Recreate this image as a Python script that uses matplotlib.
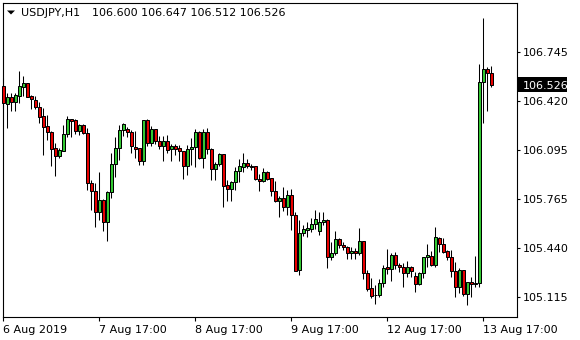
import matplotlib
matplotlib.use("Agg")
import matplotlib.pyplot as plt
from matplotlib.patches import Rectangle, Polygon
import numpy as np

# ---------------- data (USDJPY, H1) ----------------
opens = [106.517, 106.395, 106.443, 106.409, 106.453, 106.513, 106.535, 106.451, 106.424, 106.376,
         106.318, 106.252, 106.214, 106.104, 106.052, 106.088, 106.196, 106.296, 106.290, 106.218,
         106.257, 106.207, 105.871, 105.818, 105.683, 105.761, 105.617, 105.814, 106.000, 106.104,
         106.225, 106.230, 106.210, 106.110, 106.104, 106.016, 106.290, 106.137, 106.232, 106.150,
         106.122, 106.152, 106.096, 106.119, 106.104, 106.086, 105.983, 106.096, 106.110, 106.210,
         106.041, 106.210, 106.097, 105.965, 105.998, 106.064, 105.858, 105.835, 105.878, 105.951,
         105.982, 106.004, 105.983, 105.984, 105.900, 105.889, 105.944, 105.905, 105.822, 105.756,
         105.774, 105.716, 105.792, 105.661, 105.294, 105.540, 105.561, 105.570, 105.601, 105.557,
         105.612, 105.628, 105.384, 105.406, 105.500, 105.462, 105.451, 105.406, 105.424, 105.406,
         105.486, 105.274, 105.175, 105.128, 105.130, 105.208, 105.316, 105.301, 105.393, 105.327,
         105.314, 105.274, 105.314, 105.254, 105.205, 105.274, 105.380, 105.387, 105.331, 105.506,
         105.466, 105.422, 105.380, 105.287, 105.185, 105.294, 105.135, 105.214, 105.203, 105.207,
         106.542, 106.628, 106.600]
highs = [106.568, 106.469, 106.469, 106.473, 106.616, 106.585, 106.537, 106.460, 106.451, 106.411,
         106.369, 106.325, 106.218, 106.137, 106.104, 106.259, 106.318, 106.298, 106.298, 106.263,
         106.263, 106.237, 105.893, 105.875, 105.949, 105.765, 105.820, 106.074, 106.181, 106.261,
         106.270, 106.248, 106.225, 106.218, 106.106, 106.293, 106.298, 106.250, 106.234, 106.182,
         106.182, 106.189, 106.132, 106.130, 106.128, 106.088, 106.124, 106.172, 106.232, 106.218,
         106.232, 106.237, 106.104, 106.015, 106.070, 106.066, 105.891, 105.887, 105.982, 106.031,
         106.070, 106.033, 106.000, 105.986, 105.931, 105.971, 105.953, 105.909, 105.887, 105.789,
         105.849, 105.827, 105.832, 105.683, 105.628, 105.594, 105.613, 105.639, 105.694, 105.683,
         105.683, 105.634, 105.484, 105.557, 105.506, 105.484, 105.455, 105.451, 105.440, 105.573,
         105.488, 105.296, 105.241, 105.197, 105.234, 105.329, 105.433, 105.407, 105.413, 105.344,
         105.340, 105.353, 105.323, 105.285, 105.285, 105.382, 105.468, 105.424, 105.581, 105.513,
         105.506, 105.429, 105.429, 105.351, 105.307, 105.296, 105.218, 105.247, 105.388, 106.663,
         106.967, 106.641, 106.647]
lows = [106.369, 106.237, 106.353, 106.351, 106.406, 106.453, 106.443, 106.364, 106.362, 106.270,
        106.059, 106.159, 105.986, 105.922, 106.037, 106.085, 106.177, 106.177, 106.198, 106.192,
        106.198, 105.827, 105.694, 105.584, 105.628, 105.557, 105.490, 105.776, 105.916, 106.026,
        106.185, 106.181, 106.070, 106.036, 105.993, 105.990, 106.116, 106.117, 106.135, 106.102,
        106.016, 106.072, 106.016, 106.062, 106.021, 105.903, 105.929, 105.995, 105.981, 106.031,
        105.975, 106.064, 105.891, 105.891, 105.988, 105.716, 105.754, 105.754, 105.827, 105.882,
        105.949, 105.971, 105.960, 105.893, 105.822, 105.878, 105.893, 105.789, 105.750, 105.650,
        105.688, 105.661, 105.561, 105.289, 105.263, 105.521, 105.517, 105.550, 105.566, 105.528,
        105.595, 105.307, 105.362, 105.395, 105.440, 105.429, 105.371, 105.371, 105.371, 105.395,
        105.234, 105.159, 105.108, 105.070, 105.119, 105.185, 105.267, 105.225, 105.301, 105.285,
        105.181, 105.252, 105.252, 105.152, 105.196, 105.241, 105.314, 105.323, 105.318, 105.418,
        105.411, 105.362, 105.252, 105.119, 105.141, 105.124, 105.064, 105.115, 105.185, 105.185,
        106.270, 106.353, 106.512]
closes = [106.402, 106.443, 106.409, 106.458, 106.517, 106.535, 106.447, 106.429, 106.376, 106.314,
          106.247, 106.214, 106.097, 106.054, 106.092, 106.198, 106.296, 106.287, 106.220, 106.259,
          106.207, 105.871, 105.818, 105.683, 105.761, 105.617, 105.814, 106.000, 106.104, 106.225,
          106.263, 106.210, 106.116, 106.101, 106.016, 106.290, 106.137, 106.232, 106.150, 106.121,
          106.150, 106.089, 106.119, 106.096, 106.084, 105.983, 106.099, 106.110, 106.210, 106.041,
          106.210, 106.097, 105.965, 105.998, 106.064, 105.855, 105.835, 105.878, 105.951, 105.984,
          106.006, 105.984, 105.980, 105.900, 105.889, 105.944, 105.898, 105.822, 105.756, 105.774,
          105.716, 105.792, 105.661, 105.291, 105.540, 105.566, 105.573, 105.601, 105.635, 105.612,
          105.628, 105.380, 105.406, 105.500, 105.460, 105.451, 105.406, 105.424, 105.406, 105.486,
          105.274, 105.168, 105.126, 105.132, 105.208, 105.311, 105.301, 105.393, 105.327, 105.314,
          105.274, 105.314, 105.291, 105.205, 105.274, 105.380, 105.393, 105.331, 105.513, 105.466,
          105.418, 105.380, 105.287, 105.185, 105.294, 105.135, 105.214, 105.203, 105.207, 106.542,
          106.628, 106.600, 106.526]

xtick_bars = [0, 24, 48, 72, 96, 120]
xtick_labels = ["6 Aug 2019", "7 Aug 17:00", "8 Aug 17:00", "9 Aug 17:00",
                "12 Aug 17:00", "13 Aug 17:00"]
ytick_values = [105.115, 105.440, 105.765, 106.095, 106.420, 106.745]
symbol = "USDJPY,H1"
last_ohlc = [106.600, 106.647, 106.512, 106.526]

# ---------------- figure ----------------
W, H = 580, 340
fig = plt.figure(figsize=(W / 100, H / 100), dpi=100)
fig.patch.set_facecolor("white")
L, R, T, B = 2.7, 516.7, 2.5, 317.0
ax = fig.add_axes([L / W, 1 - B / H, (R - L) / W, (B - T) / H])
ax.set_facecolor("white")

o = np.array(opens); h = np.array(highs); l = np.array(lows); c = np.array(closes)
x = np.arange(len(o))
up = c >= o
bull, bear = "#32c832", "#e80000"
colors = np.where(up, bull, bear)

ax.vlines(x, l, h, color="black", linewidth=0.75, zorder=2, clip_on=False)
bottoms = np.minimum(o, c)
heights = np.abs(c - o)
ax.bar(x, heights, bottom=bottoms, width=0.72, color=colors, edgecolor="black",
       linewidth=0.72, zorder=3, clip_on=False)

ax.set_xlim(-0.15, 128.35)
ax.set_ylim(104.984, 107.071)

for s in ax.spines.values():
    s.set_color("black")
    s.set_linewidth(0.8)

ax.yaxis.tick_right()
ax.set_yticks(ytick_values)
ax.set_yticklabels([f"{v:.3f}" for v in ytick_values])
ax.tick_params(axis="y", direction="out", length=2.3, width=0.8, pad=2.4,
               labelsize=8, colors="black")
ax.set_xticks(xtick_bars)
ax.set_xticklabels(xtick_labels, ha="left")
ax.tick_params(axis="x", direction="out", length=2.9, width=0.8, pad=3.0,
               labelsize=8, colors="black")

# title
fig.patches.append(Polygon([[7 / W, 1 - 10.5 / H], [15 / W, 1 - 10.5 / H], [11 / W, 1 - 14.5 / H]],
                           closed=True, transform=fig.transFigure, facecolor="black",
                           edgecolor="none"))
fig.text(21 / W, 1 - 16.3 / H, symbol, fontsize=8, va="baseline", ha="left", color="black")
fig.text(91.7 / W, 1 - 16.3 / H, " ".join(f"{v:.3f}" for v in last_ohlc), fontsize=8,
         va="baseline", ha="left", color="black")

# current price label
cur = last_ohlc[3]
ypix = ax.transData.transform((0, cur))[1]
fig.patches.append(Rectangle(((R + 1) / W, (ypix - 7.5) / H), 49 / W, 15 / H,
                             transform=fig.transFigure, facecolor="black", edgecolor="none"))
fig.text(523 / W, ypix / H, f"{cur:.3f}", fontsize=8, color="white", va="center_baseline",
         ha="left")

fig.savefig("out.png", dpi=100)
